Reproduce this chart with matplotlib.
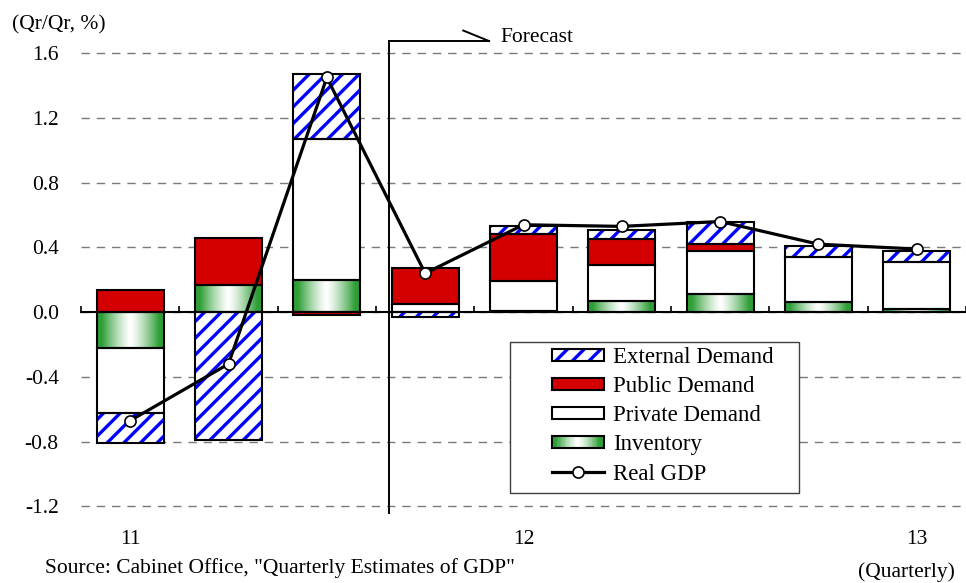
import numpy as np
import matplotlib
matplotlib.use("Agg")
import matplotlib.pyplot as plt
from matplotlib.patches import Rectangle, Patch
from matplotlib.lines import Line2D
from matplotlib.legend_handler import HandlerBase
from matplotlib.colors import to_rgb

plt.rcParams['font.family'] = ['Liberation Serif', 'DejaVu Serif']
plt.rcParams['hatch.linewidth'] = 2.4

# contributions to real GDP growth (q/q, %)
quarters = ['11Q1', '11Q2', '11Q3', '11Q4', '12Q1', '12Q2', '12Q3', '12Q4', '13Q1']
year_pos = [0, 4, 8]
year_labels = ['11', '12', '13']
inventory = [-0.22, 0.17, 0.20, 0.00, 0.01, 0.07, 0.11, 0.06, 0.02]
private = [-0.40, 0.00, 0.87, 0.05, 0.18, 0.22, 0.27, 0.28, 0.29]
public = [0.14, 0.29, -0.02, 0.22, 0.29, 0.16, 0.04, 0.00, 0.00]
external = [-0.19, -0.79, 0.40, -0.03, 0.05, 0.06, 0.14, 0.07, 0.07]
real_gdp = [-0.67, -0.32, 1.45, 0.24, 0.54, 0.53, 0.56, 0.42, 0.39]
forecast_x = 2.63

GREEN = '#2E9E36'
RED = '#D40000'
BLUE = '#0000FF'
EDGE_LW = 1.5


def gradient_colors(n):
    t = np.linspace(0, 1, n)
    w = np.clip(np.abs(2 * t - 1) * 1.15, 0, 1) ** 1.3
    g = np.array(to_rgb(GREEN))
    return (1 - w)[:, None] * np.ones(3) + w[:, None] * g


class BoxHandler(HandlerBase):
    """Legend key drawn as a small outlined box (plain, hatched or gradient)."""
    def create_artists(self, legend, orig_handle, xdescent, ydescent,
                       width, height, fontsize, trans):
        h = height * 0.75
        x0, y0 = -xdescent, -ydescent + (height - h) / 2
        arts = []
        kind = orig_handle.get_label()
        if kind == 'gradient':
            n = 40
            for k, c in enumerate(gradient_colors(n)):
                arts.append(Rectangle((x0 + width * k / n, y0), width / n * 1.05, h,
                                      facecolor=c, edgecolor='none', transform=trans))
        elif kind == 'hatch':
            arts.append(Rectangle((x0, y0), width, h, facecolor='white', edgecolor=BLUE,
                                  hatch='//', linewidth=0, transform=trans))
        else:
            arts.append(Rectangle((x0, y0), width, h, facecolor=orig_handle.get_facecolor(),
                                  edgecolor='none', transform=trans))
        arts.append(Rectangle((x0, y0), width, h, facecolor='none', edgecolor='black',
                              linewidth=EDGE_LW, transform=trans))
        return arts


fig = plt.figure(figsize=(9.66, 5.83), dpi=100)
W, H = 966, 583
ax = fig.add_axes([81 / W, 1 - 522.6 / H, (W - 81) / W, (522.6 - 37) / H])

x = np.arange(len(quarters))
width = 0.68
pos_base = np.zeros(len(x))
neg_base = np.zeros(len(x))
grad_img = gradient_colors(64)[None, :, :]

for series, style in [(inventory, 'gradient'), (private, 'white'),
                      (public, 'red'), (external, 'hatch')]:
    vals = np.array(series)
    bottoms = np.where(vals >= 0, pos_base, neg_base)
    for xi, b, v in zip(x, bottoms, vals):
        if v == 0:
            continue
        if style == 'gradient':
            ax.imshow(grad_img, extent=[xi - width / 2, xi + width / 2, b, b + v],
                      aspect='auto', interpolation='bilinear', zorder=2)
        elif style == 'hatch':
            ax.bar(xi, v, width, bottom=b, color='white', edgecolor=BLUE,
                   hatch='//', linewidth=0, zorder=2)
        else:
            ax.bar(xi, v, width, bottom=b, color=RED if style == 'red' else 'white',
                   linewidth=0, zorder=2)
        ax.bar(xi, v, width, bottom=b, facecolor='none', edgecolor='black',
               linewidth=EDGE_LW, zorder=3)
    pos_base += np.clip(vals, 0, None)
    neg_base += np.clip(vals, None, 0)

ax.plot(x, real_gdp, color='black', lw=2.3, marker='o', markersize=8,
        markerfacecolor='white', markeredgecolor='black', markeredgewidth=1.2, zorder=6)

ax.set_xlim(-0.5, -0.5 + (W - 81) / 99.3)
ax.set_ylim(-1.3, 1.7)

# y axis: dashed grid, no spine
yticks = [-1.2, -0.8, -0.4, 0.0, 0.4, 0.8, 1.2, 1.6]
ax.set_yticks(yticks)
ax.set_yticklabels([f'{v:.1f}' for v in yticks], fontsize=15.5)
ax.tick_params(axis='y', length=0, pad=16)
ax.yaxis.grid(True, color='#7a7a7a', linestyle=(0, (6, 5)), linewidth=1.0, zorder=0)
ax.set_axisbelow(True)
for side in ['left', 'right', 'top']:
    ax.spines[side].set_visible(False)

# zero line with small quarter separators
ax.spines['bottom'].set_position(('data', 0))
ax.spines['bottom'].set_linewidth(1.5)
ax.spines['bottom'].set_zorder(4)
ax.set_xticks(np.arange(len(quarters) + 1) - 0.5)
ax.tick_params(axis='x', direction='in', length=4.5, width=1.2, labelbottom=False)

sec = ax.secondary_xaxis(0)
sec.set_xticks(year_pos, year_labels)
sec.tick_params(length=0, pad=5, labelsize=15.5)
sec.spines['bottom'].set_visible(False)

# forecast divider
top_y, bot_y = 1.675, -1.241
ax.plot([forecast_x, forecast_x], [bot_y, top_y], color='black', lw=1.4,
        clip_on=False, zorder=5)
ax.plot([forecast_x, 3.65], [top_y, top_y], color='black', lw=1.4, clip_on=False, zorder=5)
ax.plot([3.65, 3.387], [top_y, 1.74], color='black', lw=1.4, clip_on=False, zorder=5)
ax.text(3.77, 1.70, 'Forecast', fontsize=15.5, va='center', ha='left')

# legend with its own box
ax.add_patch(Rectangle((510 / W, 1 - 493 / H), 289 / W, 151 / H, transform=fig.transFigure,
                       facecolor='white', edgecolor='#404040', linewidth=1.0, zorder=4.5,
                       clip_on=False))
handles = [Patch(label='hatch'), Patch(facecolor=RED, label='plain'),
           Patch(facecolor='white', label='plain'), Patch(label='gradient'),
           Line2D([], [], color='black', lw=2.3, marker='o', markersize=8,
                  markerfacecolor='white', markeredgecolor='black', markeredgewidth=1.2)]
labels = ['External Demand', 'Public Demand', 'Private Demand', 'Inventory', 'Real GDP']
leg = ax.legend(handles, labels, handler_map={Patch: BoxHandler()},
                loc='upper left', bbox_to_anchor=(552 / W, 1 - 346.5 / H),
                bbox_transform=fig.transFigure, frameon=False, borderpad=0,
                borderaxespad=0, fontsize=16.5, handlelength=2.25, handletextpad=0.4,
                labelspacing=0.36)
leg.set_zorder(7)

fig.text(12 / W, 1 - 25 / H, '(Qr/Qr, %)', fontsize=15.5, va='center', ha='left')
fig.text(45 / W, 1 - 568 / H, 'Source: Cabinet Office, "Quarterly Estimates of GDP"',
         fontsize=15.5, va='center', ha='left')
fig.text(955 / W, 1 - 572 / H, '(Quarterly)', fontsize=15.5, va='center', ha='right')

fig.savefig('out.png', dpi=100)
